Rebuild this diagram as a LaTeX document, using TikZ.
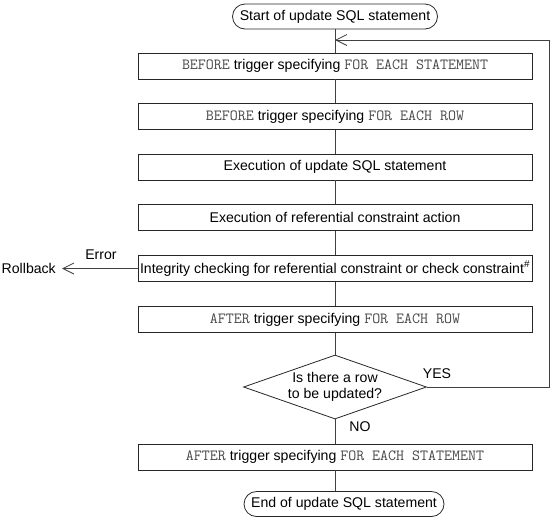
\documentclass[tikz,border=0pt]{standalone}
\usepackage{fontspec}
\setmainfont{Liberation Sans}
\usetikzlibrary{arrows.meta,shapes.geometric}
\newcommand{\cdx}[1]{{\fontsize{15.5}{16}\selectfont\ttfamily\color{black!72}#1}}
\begin{document}
\begin{tikzpicture}[x=1pt,y=-1pt,
  font=\fontsize{14.1}{16}\selectfont,
  box/.style={draw=black!85, line width=0.8pt, minimum width=394pt, minimum height=26pt, inner sep=0pt},
  term/.style={draw=black!85, line width=0.8pt, rounded corners=12.5pt, minimum height=25pt, inner sep=0pt},
  dec/.style={draw=black!85, line width=0.8pt, diamond, inner sep=0pt, minimum width=183pt, minimum height=64pt},
  ln/.style={draw=black!75, line width=0.8pt},
  tip/.style={-{Straight Barb[length=11pt,width=11pt]}},
  lbl/.style={inner sep=0pt}
]
\useasboundingbox (0,0) rectangle (553,523);

\node[term, minimum width=205pt] (s) at (335,16.5) {Start of update SQL statement};
\node[box] (b1) at (335,66) {\cdx{BEFORE} trigger specifying \cdx{FOR EACH STATEMENT}};
\node[box] (b2) at (335,116.5) {\cdx{BEFORE} trigger specifying \cdx{FOR EACH ROW}};
\node[box] (b3) at (335,167) {Execution of update SQL statement};
\node[box] (b4) at (335,217.5) {Execution of referential constraint action};
\node[box] (b5) at (335,268.5) {Integrity checking for referential constraint or check constraint$^{\#}$};
\node[box] (b6) at (335,319.5) {\cdx{AFTER} trigger specifying \cdx{FOR EACH ROW}};
\node[dec] (d) at (335,387) {};
\node[lbl, align=center] (dt) at (335,387) {Is there a row\\to be updated?};
\node[box] (b7) at (335,457) {\cdx{AFTER} trigger specifying \cdx{FOR EACH STATEMENT}};
\node[term, minimum width=200pt] (e) at (344,504) {End of update SQL statement};

\node[lbl, anchor=east] (rb) at (56,268.5) {Rollback};
\node[lbl] (err) at (101,255) {Error};
\node[lbl] (yes) at (437,374) {YES};
\node[lbl] (no) at (360,427) {NO};

\coordinate (lp) at (335,40);
\coordinate (rr) at (549,387);
\coordinate (rt) at (549,40);

\draw[ln] (s) -- (b1);
\draw[ln] (b1) -- (b2);
\draw[ln] (b2) -- (b3);
\draw[ln] (b3) -- (b4);
\draw[ln] (b4) -- (b5);
\draw[ln] (b5) -- (b6);
\draw[ln] (b6) -- (d.north);
\draw[ln] (d.south) -- (b7);
\draw[ln] (b7) -- (e.north -| b7.south);
\draw[ln, tip] (d.east) -- (rr) -- (rt) -- (lp);
\draw[ln, tip] (b5.west) -- ([xshift=6pt]rb.east);
\end{tikzpicture}
\end{document}
